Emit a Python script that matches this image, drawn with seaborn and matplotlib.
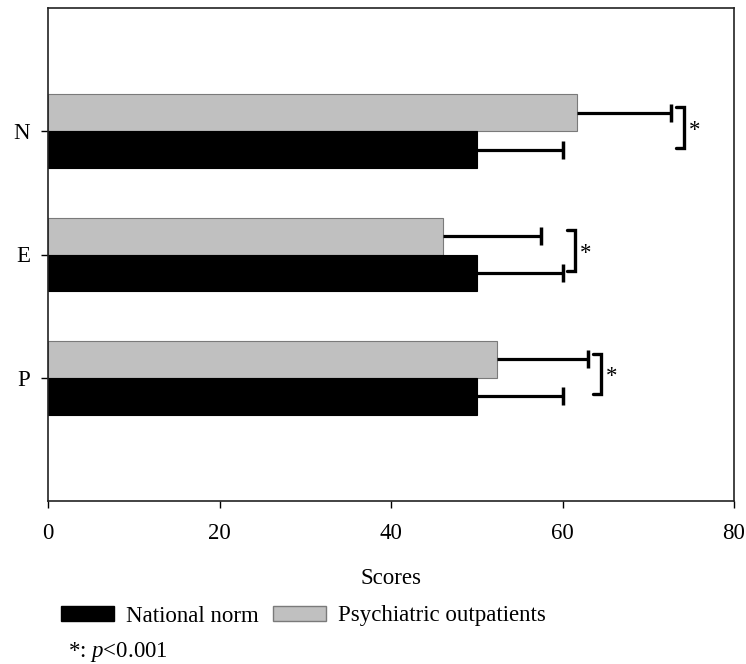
import matplotlib
matplotlib.use("Agg")
import matplotlib.pyplot as plt
from matplotlib.patches import Patch
import seaborn as sns
import pandas as pd
import numpy as np

traits = ["N", "E", "P"]
groups = ["Psychiatric outpatients", "National norm"]
patient_mean = [61.7, 46.1, 52.4]
patient_sd = [11.0, 11.4, 10.6]
norm_mean = [50.0, 50.0, 50.0]
norm_sd = [10.0, 10.0, 10.0]
x_ticks = [0, 20, 40, 60, 80]
sig_label = "*"

FS = 16.5
plt.rcParams["font.family"] = ["Liberation Serif", "DejaVu Serif"]
plt.rcParams["mathtext.fontset"] = "custom"
plt.rcParams["mathtext.it"] = "Liberation Serif:italic"
plt.rcParams["mathtext.rm"] = "Liberation Serif"

df = pd.DataFrame({
    "trait": traits * 2,
    "group": [groups[0]] * 3 + [groups[1]] * 3,
    "score": patient_mean + norm_mean,
})
colors = {groups[0]: "#c0c0c0", groups[1]: "#000000"}
edges = {groups[0]: "#7a7a7a", groups[1]: "#000000"}
sds = {groups[0]: patient_sd, groups[1]: norm_sd}

fig = plt.figure(figsize=(7.46, 6.64), dpi=100)
ax = fig.add_axes([48 / 746, 1 - 501 / 664, (734 - 48) / 746, (501 - 8) / 664])

sns.barplot(data=df, y="trait", x="score", hue="group", order=traits,
            hue_order=groups, palette=colors, orient="h", width=0.6,
            errorbar=None, legend=False, ax=ax)

ends = {}
centers = {}
for cont, g in zip(ax.containers, groups):
    ys, xs = [], []
    for bar in cont:
        bar.set_edgecolor(edges[g])
        bar.set_linewidth(0.8)
        ys.append(bar.get_y() + bar.get_height() / 2)
        xs.append(bar.get_width())
    ys, xs = np.array(ys), np.array(xs)
    sd = np.array(sds[g])
    _, caplines, _ = ax.errorbar(xs, ys, xerr=[np.zeros_like(sd), sd], fmt="none",
                                 ecolor="black", elinewidth=2.3, capsize=6.5,
                                 capthick=2.5, zorder=3)
    # keep only the outer cap
    for cl in caplines:
        if np.allclose(np.asarray(cl.get_xdata(), dtype=float), xs):
            cl.set_visible(False)
    ends[g] = xs + sd
    centers[g] = ys

# significance brackets
for i in range(len(traits)):
    xb = max(ends[groups[0]][i], ends[groups[1]][i]) + 1.5
    ytop = centers[groups[0]][i] - 0.045
    ybot = centers[groups[1]][i] - 0.015
    d = 1.0
    ax.plot([xb - d, xb, xb, xb - d], [ytop, ytop, ybot, ybot], color="black",
            lw=2.4, solid_capstyle="round", solid_joinstyle="miter", zorder=3)
    ax.annotate(sig_label, xy=(xb, (ytop + ybot) / 2), xytext=(7.5, -2),
                textcoords="offset points", ha="center", va="center", fontsize=FS)

ax.set_xlim(0, 80)
ax.set_ylim(3, -1)
ax.set_xticks(x_ticks)
ax.set_xticklabels([str(t) for t in x_ticks])
ax.tick_params(axis="both", direction="out", length=5, width=1, labelsize=FS,
               color="black")
ax.tick_params(axis="x", pad=11)
ax.tick_params(axis="y", pad=8)
ax.set_ylabel("")
ax.set_xlabel("Scores", fontsize=FS, labelpad=17)
for s in ax.spines.values():
    s.set_visible(True)
    s.set_color("#222222")
    s.set_linewidth(1.2)

handles = [Patch(facecolor=colors[groups[1]], edgecolor=edges[groups[1]]),
           Patch(facecolor=colors[groups[0]], edgecolor=edges[groups[0]])]
fig.legend(handles, [groups[1], groups[0]], loc="center left",
           bbox_to_anchor=(61 / 746, 1 - 616 / 664), ncol=2, frameon=False,
           borderpad=0, borderaxespad=0, handlelength=2.3, handleheight=0.62,
           handletextpad=0.55, columnspacing=0.6, fontsize=FS)
fig.text(68 / 746, 1 - 652 / 664, "*: $p$<0.001", fontsize=FS, ha="left",
         va="center")

fig.savefig("out.png", dpi=100)
